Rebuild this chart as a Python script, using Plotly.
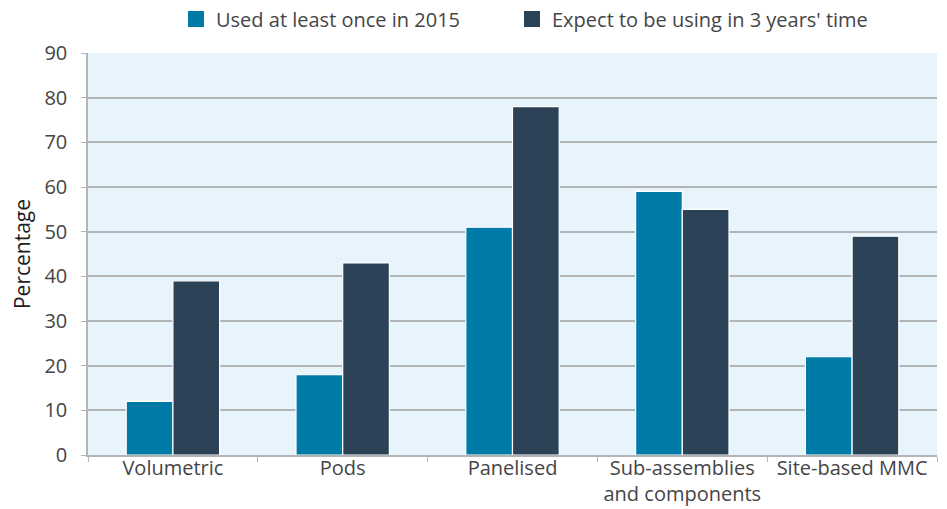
import plotly.graph_objects as go

# Modern methods of construction: usage now vs. expected usage
categories = ["Volumetric", "Pods", "Panelised",
              "Sub-assemblies<br>and components", "Site-based MMC"]
used_2015 = [12, 18, 51, 59, 22]
expect_3yrs = [39, 43, 78, 55, 49]
series_names = ["Used at least once in 2015", "Expect to be using in 3 years' time"]
series_colors = ["#007ba7", "#2c4256"]
y_ticks = [0, 10, 20, 30, 40, 50, 60, 70, 80, 90]

font_family = "'Open Sans', Lato, sans-serif"
text_color = "#454545"
grid_color = "#b2b4b6"
W, H = 947, 509

fig = go.Figure()
for name, values, color in zip(series_names, [used_2015, expect_3yrs], series_colors):
    fig.add_trace(go.Bar(
        x=categories, y=values, name=name, showlegend=False,
        marker=dict(color=color, line=dict(color="white", width=1.2)),
    ))

# Larger square swatches, one legend box per series
for name, color, leg in zip(series_names, series_colors, ["legend", "legend2"]):
    fig.add_trace(go.Scatter(
        x=[None], y=[None], name=name, mode="markers", legend=leg,
        marker=dict(symbol="square", size=16, color=color),
    ))

legend_style = dict(
    orientation="h", xref="container", yref="container",
    xanchor="left", yanchor="middle", y=1 - 19 / H,
    font=dict(size=20, color=text_color), itemwidth=30,
    bgcolor="rgba(0,0,0,0)",
)

fig.update_layout(
    width=W, height=H,
    margin=dict(l=88, r=10, t=53, b=54, autoexpand=False),
    paper_bgcolor="white",
    plot_bgcolor="#e8f4fc",
    barmode="group",
    bargap=0.45,
    bargroupgap=0.0,
    font=dict(family=font_family, size=20, color=text_color),
    legend=dict(legend_style, x=176 / W),
    legend2=dict(legend_style, x=512 / W),
    xaxis=dict(
        type="category",
        tickson="boundaries",
        ticks="outside", ticklen=5, tickcolor=grid_color,
        ticklabelstandoff=-6,
        showline=True, linecolor=grid_color, linewidth=1.5,
        showgrid=False, automargin=False,
        tickfont=dict(size=20, color=text_color),
    ),
    yaxis=dict(
        range=[0, 90], tickvals=y_ticks,
        ticks="outside", ticklen=5, tickcolor=grid_color,
        ticklabelstandoff=10,
        showline=True, linecolor=grid_color, linewidth=1.5,
        showgrid=True, gridcolor=grid_color, gridwidth=1.5,
        zeroline=False, automargin=False,
        tickfont=dict(size=20, color=text_color),
        title=dict(text="Percentage", font=dict(size=21, color="#1e1e1e"), standoff=8),
    ),
)

fig.write_html("out.html")
